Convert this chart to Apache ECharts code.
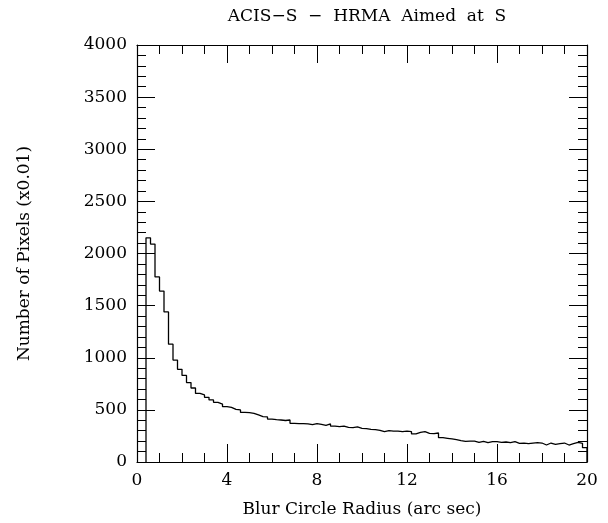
<!DOCTYPE html>
<html>
<head>
<meta charset="utf-8">
<script src="https://cdn.jsdelivr.net/npm/echarts@6/dist/echarts.min.js"></script>
<style>
html,body{margin:0;padding:0;background:#fff;}
#chart{width:608px;height:523px;}
</style>
</head>
<body>
<div id="chart"></div>
<script>
const titleText = "ACIS\u2212S  \u2212  HRMA  Aimed  at  S";
const xAxisName = "Blur Circle Radius (arc sec)";
const yAxisName = "Number of Pixels (x0.01)";
const xTicks = [0, 4, 8, 12, 16, 20];
const yTicks = [0, 500, 1000, 1500, 2000, 2500, 3000, 3500, 4000];
const binStart = 0.4;
const binWidth = 0.2;
const counts = [
  2150, 2090, 1775, 1640, 1440, 1130, 978, 889, 830, 762,
  710, 658, 643, 620, 595, 572, 556, 531, 524, 505,
  499, 476, 473, 467, 451, 435, 432, 412, 406, 403,
  398, 403, 371, 368, 368, 365, 358, 368, 361, 352,
  365, 345, 339, 345, 332, 329, 336, 323, 320, 313,
  310, 304, 291, 301, 297, 297, 291, 297, 291, 269,
  285, 291, 275, 272, 278, 233, 227, 221, 214, 205,
  198, 201, 201, 189, 198, 185, 195, 195, 189, 192,
  185, 195, 179, 182, 176, 182, 185, 182, 163, 182,
  169, 176, 182, 163, 176, 189, 179, 137
];

const pts = [[binStart, 0]];
counts.forEach((v, i) => pts.push([+(binStart + binWidth * i).toFixed(3), v]));
const endX = +(binStart + binWidth * counts.length).toFixed(3);
pts.push([endX, counts[counts.length - 1]]);
pts.push([endX, 0]);

const font = "DejaVu Serif";
const fs = 17;
const axisCommon = {
  axisLine: { show: true, onZero: false, lineStyle: { color: '#000', width: 1.2 } },
  axisTick: { show: true, inside: true, length: 18, lineStyle: { color: '#000', width: 1 } },
  minorTick: { show: true, length: 9, lineStyle: { color: '#000', width: 1 } },
  splitLine: { show: false },
  minorSplitLine: { show: false }
};

const chart = echarts.init(document.getElementById('chart'), null, { renderer: 'canvas' });
chart.setOption({
  animation: false,
  backgroundColor: '#fff',
  title: {
    text: titleText, left: 362, top: 3, textAlign: 'center',
    textStyle: { fontFamily: font, fontSize: fs, fontWeight: 'normal', color: '#000' }
  },
  grid: { left: 137, right: 21, top: 45, bottom: 61, containLabel: false },
  xAxis: [
    Object.assign({}, axisCommon, {
      type: 'value', position: 'bottom', min: xTicks[0], max: xTicks[xTicks.length - 1], interval: 4,
      minorTick: Object.assign({}, axisCommon.minorTick, { splitNumber: 4 }),
      axisLabel: { show: true, margin: 10, fontFamily: font, fontSize: fs, color: '#000',
        formatter: v => xTicks.includes(v) ? String(v) : '' },
      name: xAxisName, nameLocation: 'middle', nameGap: 39,
      nameTextStyle: { fontFamily: font, fontSize: fs, color: '#000' }
    }),
    Object.assign({}, axisCommon, {
      type: 'value', position: 'top', min: xTicks[0], max: xTicks[xTicks.length - 1], interval: 4,
      minorTick: Object.assign({}, axisCommon.minorTick, { splitNumber: 4 }),
      axisLabel: { show: false }
    })
  ],
  yAxis: [
    Object.assign({}, axisCommon, {
      type: 'value', position: 'left', min: yTicks[0], max: yTicks[yTicks.length - 1], interval: 500,
      minorTick: Object.assign({}, axisCommon.minorTick, { splitNumber: 5 }),
      axisLabel: { show: true, margin: 10, fontFamily: font, fontSize: fs, color: '#000',
        formatter: v => yTicks.includes(v) ? String(v) : '' },
      name: yAxisName, nameLocation: 'middle', nameGap: 104, nameRotate: 90,
      nameTextStyle: { fontFamily: font, fontSize: fs, color: '#000' }
    }),
    Object.assign({}, axisCommon, {
      type: 'value', position: 'right', min: yTicks[0], max: yTicks[yTicks.length - 1], interval: 500,
      minorTick: Object.assign({}, axisCommon.minorTick, { splitNumber: 5 }),
      axisLabel: { show: false }
    })
  ],
  series: [{
    type: 'line',
    step: 'end',
    xAxisIndex: 0,
    yAxisIndex: 0,
    data: pts,
    symbol: 'none',
    lineStyle: { color: '#000', width: 1.3 },
    silent: true
  }]
});
</script>
</body>
</html>
